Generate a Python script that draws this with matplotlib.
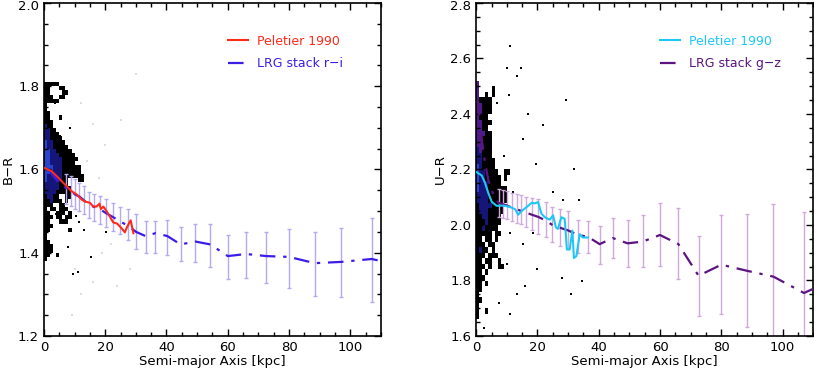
import matplotlib
matplotlib.use('Agg')
import matplotlib.pyplot as plt
from matplotlib.ticker import MultipleLocator, FuncFormatter
from matplotlib.colors import ListedColormap
import numpy as np

# ---- LRG stack profiles (shared radii) ----
lrg_x = [7.3, 8.7, 10.1, 11.6, 13.2, 14.7, 16.4, 18.2, 20.3, 22.7, 24.9, 27.4,
         30.1, 33.2, 36.4, 40.3, 44.6, 49.4, 54.3, 60.0, 66.0, 72.6, 80.0,
         88.4, 97.0, 107.0]

# left panel: B-R vs LRG r-i
ri_val = [1.555, 1.550, 1.540, 1.535, 1.525, 1.515, 1.510, 1.505, 1.495, 1.485,
          1.475, 1.465, 1.450, 1.440, 1.447, 1.440, 1.420, 1.427, 1.420, 1.392,
          1.397, 1.392, 1.390, 1.375, 1.378, 1.385]
ri_lo = [1.516, 1.512, 1.504, 1.500, 1.492, 1.484, 1.476, 1.469, 1.463, 1.453,
         1.445, 1.431, 1.410, 1.400, 1.400, 1.394, 1.380, 1.378, 1.365, 1.337,
         1.339, 1.327, 1.316, 1.297, 1.293, 1.281]
ri_hi = [1.588, 1.584, 1.576, 1.568, 1.560, 1.547, 1.542, 1.536, 1.528, 1.519,
         1.510, 1.504, 1.494, 1.476, 1.476, 1.478, 1.463, 1.469, 1.469, 1.442,
         1.450, 1.451, 1.456, 1.450, 1.460, 1.484]
ri_inner_x = [1.5, 3.0, 4.5, 5.9]
ri_inner_v = [1.600, 1.585, 1.572, 1.562]

# right panel: U-R vs LRG g-z
gz_val = [2.080, 2.075, 2.070, 2.063, 2.058, 2.050, 2.044, 2.037, 2.029, 2.016,
          2.000, 1.990, 1.980, 1.964, 1.958, 1.931, 1.953, 1.934, 1.940, 1.964,
          1.931, 1.817, 1.857, 1.835, 1.814, 1.755]
gz_lo = [2.030, 2.025, 2.020, 2.016, 2.006, 2.004, 1.992, 1.982, 1.967, 1.955,
         1.937, 1.924, 1.912, 1.900, 1.898, 1.860, 1.880, 1.849, 1.849, 1.853,
         1.804, 1.673, 1.680, 1.631, 1.580, 1.580]
gz_hi = [2.130, 2.125, 2.122, 2.117, 2.112, 2.108, 2.100, 2.096, 2.092, 2.084,
         2.065, 2.056, 2.051, 2.019, 2.016, 1.995, 2.026, 2.019, 2.037, 2.078,
         2.063, 1.961, 2.037, 2.041, 2.075, 2.047]
gz_inner_x = [0.5, 1.5, 2.5, 4.0, 5.9]
gz_inner_v = [2.450, 2.340, 2.250, 2.160, 2.100]
tail_x = 110.0
ri_tail = 1.380
gz_tail = 1.770

# ---- Peletier 1990 profiles ----
pel_br_x = [0, 2.5, 4.7, 6.85, 9.0, 10.7, 12.3, 13.4, 15.0, 16.1, 17.2, 18.1,
            18.6, 19.4, 20.5, 21.5, 22.6, 23.9, 25.3, 26.4, 27.2, 28.3, 29.2]
pel_br = [1.604, 1.596, 1.580, 1.564, 1.548, 1.540, 1.528, 1.523, 1.520, 1.511,
          1.511, 1.518, 1.505, 1.511, 1.499, 1.487, 1.473, 1.470, 1.459, 1.449,
          1.463, 1.478, 1.447]
pel_ur_x = [0.2, 1.85, 2.9, 4.0, 5.1, 6.7, 8.9, 11.0, 12.7, 13.7, 14.8, 16.5,
            18.1, 19.2, 20.2, 21.3, 22.4, 24.0, 25.1, 26.0, 26.7, 27.8, 28.9,
            29.6, 30.5, 31.4, 31.9, 32.7, 33.8, 34.8, 36.5]
pel_ur = [2.190, 2.178, 2.151, 2.114, 2.083, 2.069, 2.070, 2.065, 2.057, 2.037,
          2.050, 2.065, 2.080, 2.078, 2.083, 2.041, 2.028, 2.019, 2.035, 1.992,
          1.986, 2.028, 2.022, 1.912, 1.912, 1.980, 1.881, 1.888, 1.967, 1.955,
          1.955]

# ---- galaxy density maps ----
# one string per row (top row first), one character per cell
# '.' empty, '#' black, 'b' dark blue, 'B' blue, 'p' purple
br_map_x = (0.0, 14.0)        # kpc
br_map_y = (1.38, 1.81)       # rows of 0.01
br_map = [
    "#####.........",
    "##...##.......",
    "##....##......",
    "###..##.......",
    "#####.........",
    "#.............",
    "#.............",
    "##............",
    "##...#........",
    "###...........",
    "b##...........",
    "bb##..........",
    "bb###.........",
    "bb####........",
    "Bbb####.......",
    "Bbb#####......",
    "BBbb#####.....",
    "BBbbb#####....",
    "BBbbbb#####...",
    "BBbbbb####....",
    "BBBbbb######..",
    "BBbbbb######..",
    "Bbbbbb#######.",
    "Bbbbbb##...##.",
    "bbbbb###......",
    "bbbbb####.....",
    "bbbb#####.....",
    "#bb##..##.....",
    "##b###.#......",
    "###..##.......",
    "#.##.###......",
    "##..###.#.....",
    "###.##.##.....",
    "##...###......",
    "###...........",
    "##......#.....",
    "#.............",
    "#.............",
    "##............",
    "###...........",
    "###...........",
    "##..#.........",
    "#.............",
]
ur_map_x = (0.0, 12.0)
ur_map_y = (1.60, 2.52)       # rows of 0.02
ur_map = [
    "p...........",
    "p....#......",
    "p..#.#......",
    "p####.......",
    "pp###.......",
    "pp###.......",
    "p###........",
    "pp###.......",
    "pp##........",
    "ppp##.......",
    "pp###.......",
    "pp###.......",
    "bp###.......",
    "bb###.......",
    "bb####......",
    "Bb####......",
    "Bbb####..##.",
    "Bbb#####.#..",
    "Bbbb####....",
    "Bbbb######..",
    "bbbb######..",
    "bbbb######..",
    "#bbbb####...",
    "#bbb#####...",
    "##bb####....",
    "###b####....",
    "##b####.....",
    "#####.##....",
    "##.##.#.....",
    "###.##......",
    "#b##.#......",
    "###.###.....",
    "##.##..#....",
    "###.#..##...",
    "##.#........",
    "###.........",
    "##.#........",
    "##..........",
    "#...........",
    "##..........",
    "#...........",
    "#..#........",
    "#...........",
    "............",
    "............",
    "............",
]
br_dots_x = [10.6, 20.1, 15.5, 11.1, 9.5, 11.6, 7.8, 4.0, 5.1, 13.0, 3.5, 8.5]
br_dots_y = [1.488, 1.451, 1.389, 1.353, 1.349, 1.474, 1.413, 1.492, 1.680,
             1.455, 1.760, 1.700]
br_faint_x = [12, 16, 20, 25, 14, 18, 22, 10, 12, 9, 16, 28, 30, 19, 24]
br_faint_y = [1.76, 1.71, 1.66, 1.72, 1.62, 1.58, 1.42, 1.36, 1.30, 1.25,
              1.33, 1.36, 1.83, 1.40, 1.32]
ur_dots_x = [11.0, 10.2, 14.6, 13.4, 6.9, 10.7, 29.2, 21.8, 17.0, 15.4, 19.5,
             31.8, 33.7, 28.3, 25.0, 18.6, 28.1, 34.6, 20.0, 31.0, 13.2, 11.0,
             7.6, 2.7, 10.0, 5.6, 11.0, 15.4, 7.8, 12.0, 9.0, 16.0]
ur_dots_y = [2.644, 2.564, 2.564, 2.537, 2.440, 2.470, 2.450, 2.360, 2.400,
             2.310, 2.220, 2.200, 2.090, 2.090, 2.120, 1.970, 1.810, 1.800,
             1.840, 1.750, 1.750, 1.680, 1.720, 1.630, 1.860, 1.890, 1.970,
             1.930, 2.030, 2.120, 2.250, 1.780]

RED = '#ff2a1a'
BLUE = '#3a1ee8'
CYAN = '#1ec8f5'
PURPLE = '#5b1480'
DASHDOT = (0, (7, 3.5, 1.5, 3.5))
CELL_CODES = '#bBp'
CELL_CMAP = ListedColormap(['black', '#15157a', '#2a44cc', '#4e1c8a'])


def density(ax, rows, xr, yr, dx, dy):
    codes = np.array([[CELL_CODES.find(c) for c in r] for r in rows[::-1]],
                     dtype=float)
    codes = np.ma.masked_less(codes, 0)
    xe = np.linspace(xr[0], xr[1], codes.shape[1] + 1)
    ye = np.linspace(yr[0], yr[1], codes.shape[0] + 1)
    ax.pcolormesh(xe, ye, codes, cmap=CELL_CMAP, vmin=-0.5, vmax=3.5,
                  shading='flat', lw=0, antialiased=False, zorder=1)
    ax.scatter(dx, dy, s=3, c='black', marker='s', lw=0, zorder=1)


def style(ax, ylo, yhi, ylabel):
    ax.set_xlim(0, 110)
    ax.set_ylim(ylo, yhi)
    ax.xaxis.set_major_locator(MultipleLocator(20))
    ax.xaxis.set_minor_locator(MultipleLocator(5))
    ax.yaxis.set_major_locator(MultipleLocator(0.2))
    ax.yaxis.set_minor_locator(MultipleLocator(0.05))
    ax.yaxis.set_major_formatter(
        FuncFormatter(lambda v, p: '' if abs(v - yhi) < 1e-6 else '%.1f' % v))
    ax.text(-0.014, 1.008, '%.1f' % yhi, transform=ax.transAxes, ha='right',
            va='top', fontsize=9.5)
    ax.tick_params(which='both', direction='in', top=True, right=True,
                   labelsize=9.5, width=1)
    ax.tick_params(which='major', length=5)
    ax.tick_params(which='minor', length=3)
    for s in ax.spines.values():
        s.set_linewidth(1.2)
    ax.set_xlabel('Semi-major Axis [kpc]', fontsize=9.5, labelpad=1)
    ax.set_ylabel(ylabel, fontsize=9.5)
    ax.yaxis.set_label_coords(-0.088, 0.5)


fig = plt.figure(figsize=(8.14, 3.75), dpi=100)
ax1 = fig.add_axes([0.054, 0.104, 0.414, 0.888])
ax2 = fig.add_axes([0.585, 0.104, 0.414, 0.888])

# left panel
density(ax1, br_map, br_map_x, br_map_y, br_dots_x, br_dots_y)
ax1.scatter(br_faint_x, br_faint_y, s=2, c='#dddddd', marker='s', lw=0, zorder=1)
ri_v = np.array(ri_val)
ax1.errorbar(lrg_x, ri_val, yerr=[ri_v - np.array(ri_lo), np.array(ri_hi) - ri_v],
             fmt='none', ecolor='#b4aaf2', elinewidth=1, capsize=1.5, zorder=2)
ax1.plot(ri_inner_x + lrg_x + [tail_x], ri_inner_v + ri_val + [ri_tail],
         color=BLUE, lw=1.6, ls=DASHDOT, zorder=3, label='LRG stack r\u2212i')
ax1.plot(pel_br_x, pel_br, color=RED, lw=1.5, zorder=4, label='Peletier 1990')
style(ax1, 1.2, 2.0, 'B\u2212R')

# right panel
density(ax2, ur_map, ur_map_x, ur_map_y, ur_dots_x, ur_dots_y)
gz_v = np.array(gz_val)
ax2.errorbar(lrg_x, gz_val, yerr=[gz_v - np.array(gz_lo), np.array(gz_hi) - gz_v],
             fmt='none', ecolor='#cfa9dc', elinewidth=1, capsize=1.5, zorder=2)
ax2.plot(gz_inner_x + lrg_x + [tail_x], gz_inner_v + gz_val + [gz_tail],
         color=PURPLE, lw=1.6, ls=DASHDOT, zorder=3, label='LRG stack g\u2212z')
ax2.plot(pel_ur_x, pel_ur, color=CYAN, lw=1.5, zorder=4, label='Peletier 1990')
style(ax2, 1.6, 2.8, 'U\u2212R')

for ax, cols in ((ax1, (RED, BLUE)), (ax2, (CYAN, PURPLE))):
    h, l = ax.get_legend_handles_labels()
    leg = ax.legend(h[::-1], l[::-1], loc='upper left', bbox_to_anchor=(0.546, 0.905),
                    borderaxespad=0, borderpad=0, frameon=False, fontsize=9,
                    handlelength=1.6, handletextpad=0.7, labelspacing=0.75)
    for t, c in zip(leg.get_texts(), cols):
        t.set_color(c)

fig.savefig('out.png', dpi=100)
